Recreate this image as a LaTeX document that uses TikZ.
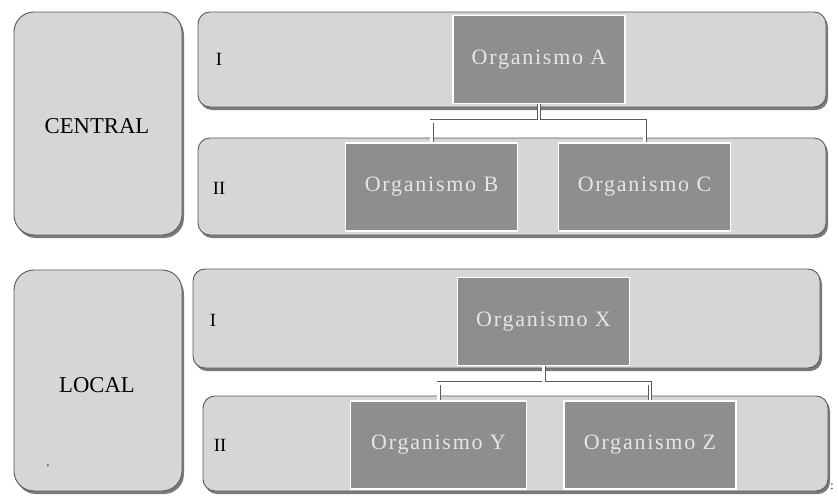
\documentclass[tikz,border=0pt]{standalone}
\usepackage{fontspec}
\setmainfont{Liberation Serif}
\definecolor{bandfill}{HTML}{D6D6D6}
\definecolor{bandline}{HTML}{5A5A5A}
\definecolor{boxfill}{HTML}{8E8E8E}
\definecolor{boxtext}{HTML}{E6E6E6}
\definecolor{shadowc}{HTML}{7A7A7A}
\tikzset{
  band/.style={draw=bandline, line width=0.7pt, fill=bandfill, rounded corners=9pt},
  bandshadow/.style={fill=shadowc, rounded corners=9pt},
  levelbox/.style={draw=bandline, line width=0.7pt, fill=bandfill, rounded corners=15pt},
  orgbox/.style={draw=white, line width=1.2pt, fill=boxfill, text=boxtext,
    minimum width=129pt, minimum height=66pt, inner sep=0pt,
    font=\fontsize{16.5}{18}\selectfont\addfontfeature{LetterSpace=8}},
  levellabel/.style={font=\fontsize{17}{19}\selectfont, text=black},
  romanlabel/.style={font=\fontsize{14}{16}\selectfont, text=black},
  conn/.style={draw=bandline, line width=0.6pt, double=white, double distance=1.8pt}
}
\begin{document}
\begin{tikzpicture}[x=0.75pt, y=-0.75pt]
\useasboundingbox (0,0) rectangle (838,496);
\fill[white] (0,0) rectangle (838,496);
% left level boxes
\fill[bandshadow, rounded corners=15pt] (16,15) rectangle (184,238);
\draw[levelbox] (14,12) rectangle (182,235);
\node[levellabel] (central) at (97,126) {CENTRAL};
\fill[bandshadow, rounded corners=15pt] (16,274) rectangle (184,494);
\draw[levelbox] (14,270) rectangle (182,491);
\node[levellabel] (local) at (97,385) {LOCAL};
% bands
\fill[bandshadow] (200,15) rectangle (828,110);
\draw[band] (198,12) rectangle (826,107);
\fill[bandshadow] (200,141) rectangle (828,238);
\draw[band] (198,138) rectangle (826,235);
\fill[bandshadow] (195,272) rectangle (822,371);
\draw[band] (193,269) rectangle (820,368);
\fill[bandshadow] (205,399) rectangle (830,494);
\draw[band] (203,396) rectangle (828,491);
% roman labels
\node[romanlabel] (r1) at (219,59) {I};
\node[romanlabel] (r2) at (219,188) {II};
\node[romanlabel] (r3) at (213,320) {I};
\node[romanlabel] (r4) at (220,445) {II};
% organism boxes
\node[orgbox] (A) at (539,59.5) {Organismo A};
\node[orgbox] (B) at (431.5,187) {Organismo B};
\node[orgbox] (C) at (644.5,187) {Organismo C};
\node[orgbox] (X) at (543.5,321.5) {Organismo X};
\node[orgbox, minimum width=132pt] (Y) at (438.5,445) {Organismo Y};
\node[orgbox] (Z) at (650,445) {Organismo Z};
% connectors (one path each, so the double line joins cleanly)
\coordinate (ja) at ([yshift=-17*0.75pt]A.south);
\coordinate (jx) at ([yshift=-17*0.75pt]X.south);
\draw[conn] (A.south) -- (ja) (B.north) |- (ja) -| (C.north);
\draw[conn] (X.south) -- (jx) (Y.north) |- (jx) -| (Z.north);
% stray marks
\node[font=\fontsize{7}{8}\selectfont] (m1) at (48,466) {,};
\node[font=\fontsize{9}{10}\selectfont] (m2) at (832,487) {:};
\end{tikzpicture}
\end{document}
